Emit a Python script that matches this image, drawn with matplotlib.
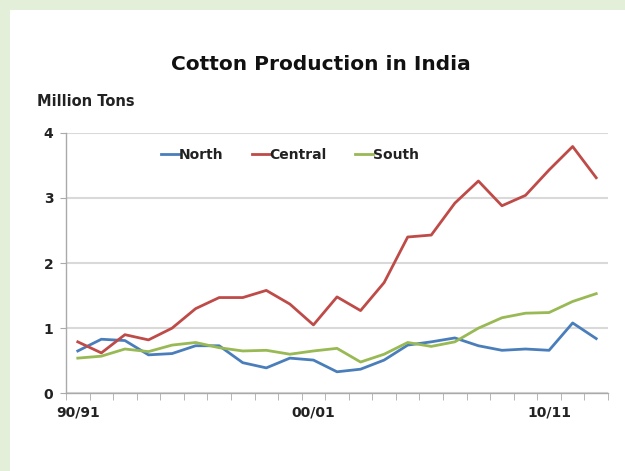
import matplotlib
matplotlib.use("Agg")
import matplotlib.pyplot as plt
from matplotlib.patches import Rectangle

plt.rcParams['font.family'] = ['DejaVu Sans']

seasons = ['90/91', '91/92', '92/93', '93/94', '94/95', '95/96', '96/97', '97/98',
           '98/99', '99/00', '00/01', '01/02', '02/03', '03/04', '04/05', '05/06',
           '06/07', '07/08', '08/09', '09/10', '10/11', '11/12', '12/13']
shown_labels = ['90/91', '00/01', '10/11']

north = [0.65, 0.83, 0.81, 0.59, 0.61, 0.73, 0.73, 0.47, 0.39, 0.54, 0.51, 0.33,
         0.37, 0.51, 0.74, 0.79, 0.85, 0.73, 0.66, 0.68, 0.66, 1.08, 0.84]
central = [0.79, 0.62, 0.90, 0.82, 1.00, 1.30, 1.47, 1.47, 1.58, 1.37, 1.05, 1.48,
           1.27, 1.70, 2.40, 2.43, 2.92, 3.26, 2.88, 3.04, 3.43, 3.79, 3.31]
south = [0.54, 0.57, 0.68, 0.64, 0.74, 0.78, 0.70, 0.65, 0.66, 0.60, 0.65, 0.69,
         0.48, 0.60, 0.78, 0.72, 0.79, 1.00, 1.16, 1.23, 1.24, 1.41, 1.53]

fig = plt.figure(figsize=(6.25, 4.71), dpi=100, facecolor='#e3efd9')
# white card on the green frame
fig.patches.append(Rectangle((10 / 625, 0), 1, 1 - 10 / 471, transform=fig.transFigure,
                             facecolor='white', edgecolor='none', zorder=-10))

ax = fig.add_axes([0.1056, 0.165, 0.8672, 0.553])
ax.set_facecolor('none')

x = list(range(len(seasons)))
ax.plot(x, north, color='#4a7ebb', lw=2.0, label='North')
ax.plot(x, central, color='#be4b48', lw=2.0, label='Central')
ax.plot(x, south, color='#98b954', lw=2.0, label='South')

ax.set_xlim(-0.5, len(seasons) - 0.5)
ax.set_ylim(0, 4)
ax.set_yticks([0, 1, 2, 3, 4])
ax.grid(axis='y', color='#d9d9d9', lw=1.5)
ax.set_axisbelow(True)

ax.set_xticks([seasons.index(s) for s in shown_labels])
ax.set_xticklabels(shown_labels)
ax.set_xticks([i - 0.5 for i in range(len(seasons) + 1)], minor=True)
ax.tick_params(axis='x', which='major', length=0, pad=9)
ax.tick_params(axis='x', which='minor', length=5, color='#aaaaaa', direction='out')
ax.tick_params(axis='y', length=4, color='#aaaaaa', pad=5)
for lab in ax.get_xticklabels() + ax.get_yticklabels():
    lab.set_fontsize(10)
    lab.set_fontweight('bold')
    lab.set_color('#222222')

for side in ['top', 'right']:
    ax.spines[side].set_visible(False)
for side in ['left', 'bottom']:
    ax.spines[side].set_color('#aaaaaa')
    ax.spines[side].set_linewidth(1.0)

leg = ax.legend(loc='center', bbox_to_anchor=(0.413, 0.914), ncol=3, frameon=False,
                handlelength=1.3, handletextpad=0.0, columnspacing=2.0,
                prop={'size': 10, 'weight': 'bold'})
for t in leg.get_texts():
    t.set_color('#222222')

fig.text(0.514, 1 - 65 / 471, 'Cotton Production in India', ha='center', va='center',
         fontsize=14.5, fontweight='bold', color='#111111')
fig.text(37 / 625, 1 - 102 / 471, 'Million Tons', ha='left', va='center',
         fontsize=10.5, fontweight='bold', color='#222222')

fig.savefig('out.png', dpi=100, facecolor=fig.get_facecolor())
